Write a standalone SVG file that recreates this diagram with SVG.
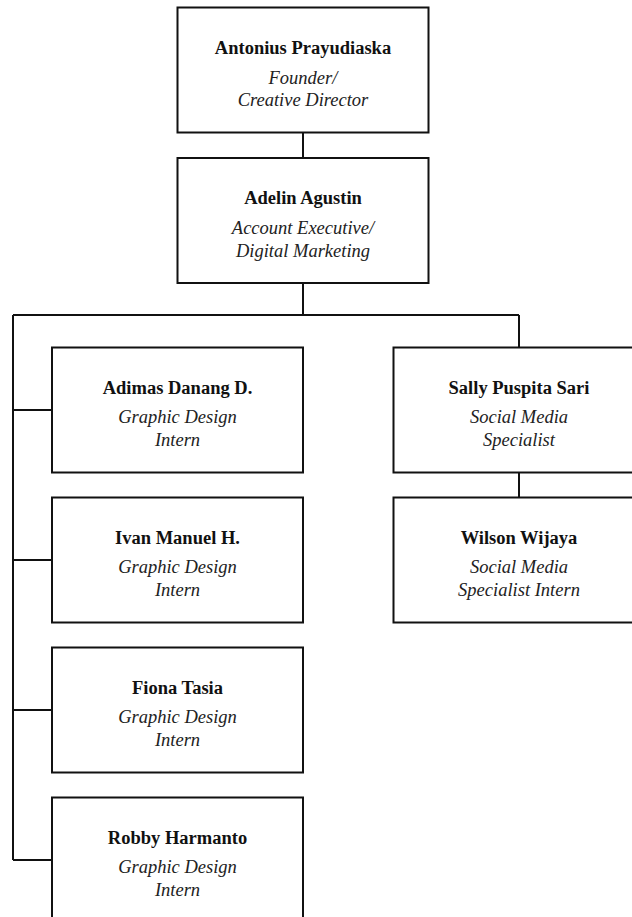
<svg xmlns="http://www.w3.org/2000/svg" width="632" height="917" viewBox="0 0 632 917">
<style>
.box{fill:#fff;stroke:#111;stroke-width:2}
.ln{fill:none;stroke:#111;stroke-width:2}
.nm{font-family:"Liberation Serif","Times New Roman",serif;font-size:18.5px;font-weight:bold;fill:#111;text-anchor:middle}
.rl{font-family:"Liberation Serif","Times New Roman",serif;font-size:18.5px;font-style:italic;fill:#222;text-anchor:middle}
</style>
<rect width="632" height="917" fill="#fff"/>
<g id="connectors">
<path class="ln" d="M303 132.5V158M303 283V315M13 315H519M13 315V860M13 410H52M13 560H52M13 710H52M13 860H52M519 315V347.5M519 472.5V497.5"/>
</g>
<g id="antonius">
<rect class="box" x="177.5" y="7.5" width="251" height="125"/>
<text class="nm" x="303" y="54">Antonius Prayudiaska</text>
<text class="rl" x="303" y="83.5">Founder/</text>
<text class="rl" x="303" y="106">Creative Director</text>
</g>
<g id="adelin">
<rect class="box" x="177.5" y="158" width="251" height="125"/>
<text class="nm" x="303" y="204">Adelin Agustin</text>
<text class="rl" x="303" y="233.5">Account Executive/</text>
<text class="rl" x="303" y="256.5">Digital Marketing</text>
</g>
<g id="adimas">
<rect class="box" x="52" y="347.5" width="251" height="125"/>
<text class="nm" x="177.5" y="393.5">Adimas Danang D.</text>
<text class="rl" x="177.5" y="423">Graphic Design</text>
<text class="rl" x="177.5" y="445.5">Intern</text>
</g>
<g id="ivan">
<rect class="box" x="52" y="497.5" width="251" height="125"/>
<text class="nm" x="177.5" y="543.5">Ivan Manuel H.</text>
<text class="rl" x="177.5" y="573">Graphic Design</text>
<text class="rl" x="177.5" y="595.5">Intern</text>
</g>
<g id="fiona">
<rect class="box" x="52" y="647.5" width="251" height="125"/>
<text class="nm" x="177.5" y="693.5">Fiona Tasia</text>
<text class="rl" x="177.5" y="723">Graphic Design</text>
<text class="rl" x="177.5" y="745.5">Intern</text>
</g>
<g id="robby">
<rect class="box" x="52" y="797.5" width="251" height="125"/>
<text class="nm" x="177.5" y="843.5">Robby Harmanto</text>
<text class="rl" x="177.5" y="873">Graphic Design</text>
<text class="rl" x="177.5" y="895.5">Intern</text>
</g>
<g id="sally">
<rect class="box" x="393.5" y="347.5" width="251" height="125"/>
<text class="nm" x="519" y="393.5">Sally Puspita Sari</text>
<text class="rl" x="519" y="423">Social Media</text>
<text class="rl" x="519" y="445.5">Specialist</text>
</g>
<g id="wilson">
<rect class="box" x="393.5" y="497.5" width="251" height="125"/>
<text class="nm" x="519" y="543.5">Wilson Wijaya</text>
<text class="rl" x="519" y="573">Social Media</text>
<text class="rl" x="519" y="595.5">Specialist Intern</text>
</g>
</svg>
